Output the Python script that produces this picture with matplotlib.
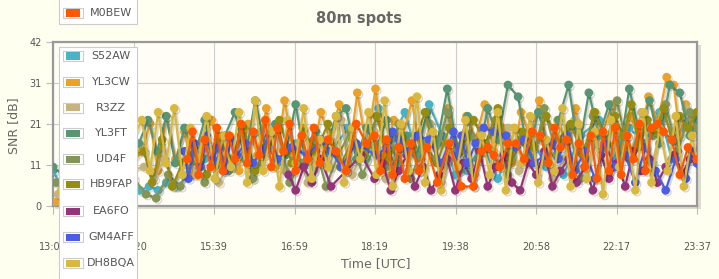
import numpy as np
import matplotlib
matplotlib.use("Agg")
import matplotlib.pyplot as plt
import matplotlib.patheffects as pe
from matplotlib.patches import Rectangle

# data ------------------------------------------------------------
# time in minutes after 13:00 UTC, SNR in dB
stations = ['S52AW', 'YL3CW', 'R3ZZ', 'YL3FT', 'UD4F', 'HB9FAP',
            'EA6FO', 'GM4AFF', 'DH8BQA', 'M0BEW']
colors = ['#4bb2c5', '#eaa228', '#c5b47f', '#579575', '#839557',
          '#958c12', '#953579', '#4b5de4', '#d8b83f', '#ff5800']

t_s52aw = [0, 6, 14, 25, 40, 58, 75, 86, 95, 104, 112, 122, 135, 150, 163, 178, 190, 205, 222, 240,
           258, 275, 292, 310, 322, 335, 348, 360, 372, 385, 398, 410, 424, 440, 452, 470, 488, 505,
           522, 540, 556, 570, 585, 600, 612, 625, 637]
snr_s52aw = [9, 6, 5, 7, 4, 6, 5, 4, 5, 4, 6, 5, 8, 12, 17, 10, 15, 19, 11, 16,
             9, 14, 20, 12, 25, 17, 24, 13, 26, 18, 8, 9, 16, 7, 14, 19, 10, 8,
             18, 22, 13, 20, 16, 24, 12, 21, 23]

t_yl3cw = [2, 12, 28, 48, 70, 88, 96, 104, 112, 121, 130, 139, 148, 157, 166, 175, 184, 193, 202, 211,
           220, 229, 238, 247, 256, 265, 274, 283, 292, 301, 310, 319, 328, 337, 346, 355, 364, 373,
           382, 391, 400, 409, 418, 427, 436, 445, 454, 463, 472, 481, 490, 499, 508, 517, 526, 535,
           544, 553, 562, 571, 580, 589, 598, 607, 614, 620, 626, 632, 637]
snr_yl3cw = [1, 3, 6, 10, 8, 14, 21, 9, 23, 12, 19, 8, 16, 22, 11, 18, 9, 21, 13, 25,
             10, 27, 14, 20, 12, 24, 17, 26, 11, 29, 15, 30, 13, 22, 18, 27, 12, 21,
             16, 25, 10, 23, 17, 26, 14, 20, 11, 24, 18, 27, 13, 22, 16, 25, 12, 24,
             19, 26, 14, 23, 17, 28, 21, 33, 31, 18, 26, 20, 24]

t_r3zz = [5, 30, 60, 90, 100, 110, 120, 131, 142, 153, 164, 175, 186, 197, 208, 219, 230, 241, 252, 263,
          274, 285, 296, 307, 318, 329, 340, 351, 362, 373, 384, 395, 406, 417, 428, 439, 450, 461,
          472, 483, 494, 505, 516, 527, 538, 549, 560, 571, 582, 593, 604, 615, 626, 637]
snr_r3zz = [3, 6, 8, 10, 7, 12, 5, 14, 8, 16, 6, 11, 18, 7, 13, 20, 9, 15, 6, 17,
            10, 22, 8, 14, 19, 7, 12, 16, 9, 21, 6, 13, 18, 8, 15, 11, 20, 9,
            14, 17, 7, 12, 22, 10, 16, 8, 19, 13, 24, 11, 23, 17, 25, 20]

t_yl3ft = [0, 10, 25, 45, 65, 85, 94, 103, 112, 121, 130, 140, 150, 160, 170, 180, 190, 200, 210, 220,
           230, 240, 250, 260, 270, 280, 290, 300, 310, 320, 330, 340, 350, 360, 370, 380, 390, 400,
           410, 420, 430, 440, 450, 460, 470, 480, 490, 500, 510, 520, 530, 540, 550, 560, 570, 580,
           590, 600, 610, 620, 630, 637]
snr_yl3ft = [10, 8, 6, 9, 12, 16, 22, 14, 23, 11, 20, 13, 22, 10, 18, 24, 12, 27, 15, 21,
             13, 26, 11, 19, 14, 23, 25, 12, 20, 15, 22, 11, 18, 13, 24, 16, 30, 14,
             23, 12, 25, 17, 31, 28, 13, 24, 15, 22, 31, 14, 29, 18, 26, 13, 30, 19,
             27, 16, 31, 29, 18, 22]

t_ud4f = [3, 20, 50, 80, 92, 102, 114, 126, 138, 150, 162, 174, 186, 198, 210, 222, 234, 246, 258, 270,
          282, 294, 306, 318, 330, 342, 354, 366, 378, 390, 402, 414, 426, 438, 450, 462, 474, 486,
          498, 510, 522, 534, 546, 558, 570, 582, 594, 606, 618, 630, 637]
snr_ud4f = [6, 9, 4, 7, 3, 2, 8, 5, 12, 6, 15, 9, 18, 7, 14, 20, 6, 11, 17, 5,
            13, 19, 8, 15, 10, 21, 7, 16, 12, 24, 9, 18, 14, 22, 8, 17, 11, 25,
            13, 20, 7, 23, 15, 27, 12, 21, 18, 26, 14, 24, 20]

t_hb9fap = [40, 90, 98, 108, 118, 128, 140, 152, 164, 176, 188, 200, 212, 224, 236, 248, 260, 272, 284, 296,
            308, 320, 332, 344, 356, 368, 380, 392, 404, 416, 428, 440, 452, 464, 476, 488, 500, 512,
            524, 536, 548, 556, 564, 572, 580, 588, 596, 604, 612, 620, 628, 637]
snr_hb9fap = [10, 14, 6, 17, 5, 11, 15, 8, 18, 12, 20, 9, 16, 22, 11, 19, 14, 21, 10, 17,
              13, 23, 12, 18, 15, 24, 11, 20, 14, 22, 16, 25, 12, 19, 15, 23, 17, 21,
              13, 24, 16, 23, 18, 26, 15, 22, 19, 25, 17, 23, 20, 24]

t_ea6fo = [233, 240, 248, 256, 265, 275, 290, 305, 318, 326, 334, 342, 350, 358, 366, 374, 382, 390, 398, 406,
           414, 422, 430, 438, 446, 454, 462, 470, 478, 486, 494, 502, 510, 518, 526, 534, 542, 550,
           558, 566, 574, 582, 590, 598, 606, 614, 622, 630, 637]
snr_ea6fo = [8, 4, 10, 6, 12, 5, 9, 13, 7, 11, 4, 9, 13, 5, 10, 4, 8, 12, 4, 11,
             7, 14, 5, 10, 13, 6, 4, 11, 8, 14, 5, 9, 12, 6, 10, 4, 13, 7,
             11, 5, 14, 9, 12, 6, 10, 13, 8, 12, 11]

t_gm4aff = [130, 134, 140, 146, 152, 158, 164, 170, 176, 182, 190, 198, 206, 214, 222, 236, 252, 265, 275, 285,
            300, 320, 330, 336, 342, 350, 360, 372, 384, 396, 400, 404, 410, 418, 426, 436, 448, 458,
            466, 476, 486, 494, 500, 508, 516, 526, 536, 546, 556, 566, 576, 586, 596, 606, 616, 626,
            632, 637]
snr_gm4aff = [14, 7, 16, 10, 18, 12, 15, 9, 17, 13, 16, 11, 14, 18, 12, 15, 13, 17, 14, 10,
              16, 13, 15, 19, 17, 14, 18, 17, 11, 19, 13, 18, 11, 16, 20, 19, 18, 15,
              17, 11, 13, 16, 12, 18, 9, 14, 7, 16, 10, 13, 6, 15, 9, 4, 12, 7,
              14, 11]

t_dh8bqa = [8, 35, 65, 88, 96, 104, 112, 120, 128, 136, 144, 152, 160, 168, 176, 184, 192, 200, 208, 216,
            224, 232, 240, 248, 256, 264, 272, 280, 288, 296, 304, 312, 320, 328, 336, 344, 352, 360,
            368, 376, 384, 392, 400, 408, 416, 424, 432, 440, 448, 456, 464, 472, 480, 488, 496, 504,
            512, 520, 528, 536, 544, 552, 560, 568, 576, 584, 592, 600, 608, 616, 624, 632, 637]
snr_dh8bqa = [4, 7, 10, 22, 9, 24, 11, 25, 8, 20, 12, 23, 7, 18, 10, 24, 6, 27, 9, 19,
              5, 22, 11, 25, 7, 17, 10, 23, 6, 20, 12, 24, 8, 27, 5, 21, 9, 28,
              6, 19, 4, 16, 10, 22, 5, 18, 8, 24, 4, 20, 11, 23, 6, 17, 9, 25,
              5, 21, 7, 19, 3, 22, 10, 18, 4, 24, 6, 20, 9, 23, 5, 18, 12]

t_m0bew = [133, 138, 144, 150, 156, 162, 168, 174, 180, 186, 192, 198, 204, 210, 216, 222, 228, 234, 240, 246,
           252, 258, 264, 272, 280, 290, 300, 310, 318, 324, 330, 336, 342, 348, 354, 362, 370, 380,
           392, 404, 416, 424, 430, 436, 442, 450, 458, 466, 474, 482, 490, 496, 502, 508, 514, 520,
           526, 532, 538, 544, 550, 556, 562, 568, 574, 580, 586, 592, 598, 604, 612, 620, 628, 637]
snr_m0bew = [12, 19, 8, 17, 10, 20, 9, 18, 12, 21, 11, 19, 13, 22, 10, 20, 14, 21, 9, 18,
             12, 20, 11, 17, 14, 9, 21, 16, 18, 9, 17, 8, 15, 7, 16, 9, 15, 6,
             16, 5, 5, 14, 15, 13, 10, 16, 16, 12, 19, 18, 11, 20, 15, 17, 8, 16,
             10, 18, 7, 19, 9, 20, 8, 18, 12, 21, 9, 20, 21, 19, 17, 8, 15, 12]

times = [t_s52aw, t_yl3cw, t_r3zz, t_yl3ft, t_ud4f, t_hb9fap, t_ea6fo, t_gm4aff, t_dh8bqa, t_m0bew]
snrs = [snr_s52aw, snr_yl3cw, snr_r3zz, snr_yl3ft, snr_ud4f, snr_hb9fap, snr_ea6fo, snr_gm4aff,
        snr_dh8bqa, snr_m0bew]

x_labels = ['13:00', '14:20', '15:39', '16:59', '18:19', '19:38', '20:58', '22:17', '23:37']
y_labels = ['0', '11', '21', '31', '42']
t_max = 637
snr_max = 42

# figure ----------------------------------------------------------
W, H = 719, 279
bg = '#fffff0'
fig = plt.figure(figsize=(W / 100, H / 100), dpi=100, facecolor=bg)


def fx(px):
    return px / W


def fy(py):
    return 1 - py / H


left, right, top, bottom = 53, 697, 42, 206
ax = fig.add_axes([fx(left), fy(bottom), fx(right - left), (bottom - top) / H])
ax.set_facecolor('#fffdf6')

# plot shadow
fig.patches.append(Rectangle((fx(left + 2), fy(bottom + 3)), fx(right - left + 2), (bottom - top) / H,
                             transform=fig.transFigure, facecolor='#dcdcd0', edgecolor='none', zorder=-1))

shadow = [pe.SimpleLineShadow(offset=(1.3, -1.3), shadow_color='k', alpha=0.15), pe.Normal()]
for name, c, t, s in zip(stations, colors, times, snrs):
    assert len(t) == len(s), name
    ax.plot(t, s, color=c, lw=1.6, marker='o', ms=5.2, mec=c, mfc=c, label=name,
            path_effects=shadow, zorder=3)

ax.set_xlim(0, t_max)
ax.set_ylim(0, snr_max)
ax.set_xticks(np.linspace(0, t_max, len(x_labels)))
ax.set_xticklabels(x_labels)
ax.set_yticks(np.linspace(0, snr_max, len(y_labels)))
ax.set_yticklabels(y_labels)
ax.grid(True, color='#cccccc', lw=0.8, zorder=0)
ax.set_axisbelow(True)
for sp in ax.spines.values():
    sp.set_color('#999999')
    sp.set_linewidth(1.6)
ax.tick_params(axis='x', length=6, width=0.8, color='#bbbbbb', pad=20, labelsize=7, labelcolor='#555555')
ax.tick_params(axis='y', length=5, width=0.8, color='#bbbbbb', pad=3, labelsize=7, labelcolor='#555555')

fig.text(fx(359), fy(19), '80m spots', ha='center', va='center', fontsize=10.5,
         fontweight='bold', color='#666666')
fig.text(fx(376), fy(264), 'Time [UTC]', ha='center', va='center', fontsize=9, color='#666666')
fig.text(fx(14), fy(126), 'SNR [dB]', ha='center', va='center', fontsize=9, color='#666666',
         rotation=90)


# legend (overflowing, as in the original page) -------------------
def box(x0, y0, x1, y1, fc, ec, z):
    fig.patches.append(Rectangle((fx(x0), fy(y1)), fx(x1 - x0), (y1 - y0) / H, transform=fig.transFigure,
                                 facecolor=fc, edgecolor=ec, lw=0.8, zorder=z))


box(59, -10, 137, 24, '#ffffff', '#cccccc', 5)
box(59, 47, 137, 295, '#ffffff', '#cccccc', 5)

rows_y = [56, 82, 108, 133, 159, 184, 211, 237, 263, 13]
for name, c, yc in zip(stations, colors, rows_y):
    box(63, yc - 5, 83, yc + 5, '#ffffff', '#cccccc', 6)
    box(66, yc - 3.5, 80, yc + 3.5, c, 'none', 7)
    fig.text(fx(111), fy(yc), name, ha='center', va='center', fontsize=8, color='#555555', zorder=8)

fig.savefig('out.png', dpi=100, facecolor=bg)
